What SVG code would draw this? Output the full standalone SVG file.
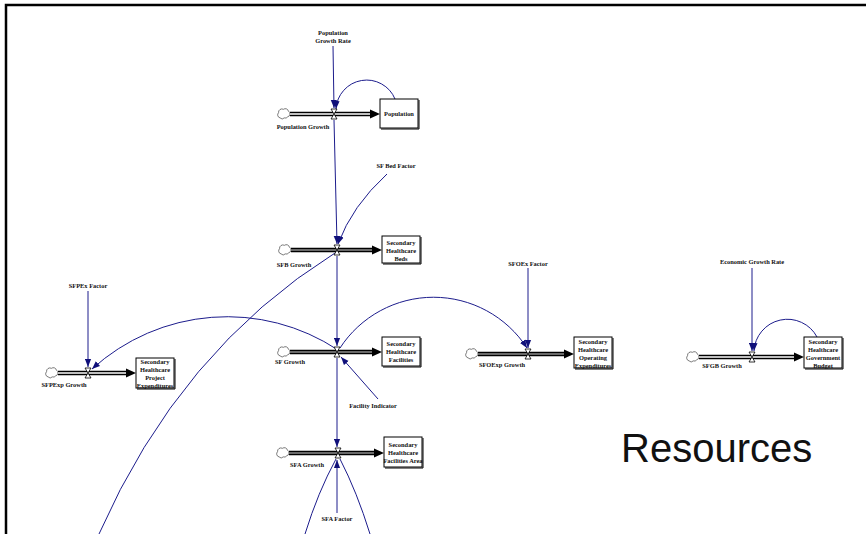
<svg xmlns="http://www.w3.org/2000/svg" xmlns:xlink="http://www.w3.org/1999/xlink" width="866" height="534" viewBox="0 0 866 534">
<style>
.lbl{font-family:"Liberation Serif","Times New Roman",serif;font-size:6.4px;font-weight:bold;text-anchor:middle;fill:#111}
.big{font-family:"Liberation Sans",Arial,sans-serif;font-size:40px;fill:#111}
.inf{fill:none;stroke:#1c1c8c;stroke-width:1}
.pipeo{stroke:#000;stroke-width:4.4;fill:none}
.pipeiw{stroke:#fff;stroke-width:1.4;fill:none}
.pipeig{stroke:#8c8c8c;stroke-width:1.6;fill:none}
.stock{fill:#fff;stroke:#000;stroke-width:1}
.shadow{fill:none;stroke:#000;stroke-width:1}
.valve{fill:#fff;stroke:#000;stroke-width:0.8}
.cloud{fill:#fff;stroke:#555;stroke-width:0.6}
.flowhead{fill:#000}
</style>
<defs>
<marker id="ah" markerWidth="9" markerHeight="7" refX="8" refY="3.5" orient="auto" markerUnits="userSpaceOnUse">
<path d="M0,0.4 L8,3.5 L0,6.6 z" fill="#10107a"/>
</marker>
<g id="valveSym"><path class="valve" d="M-3,-5 L3,-5 L0,0 z M-3,5 L3,5 L0,0 z"/></g>
<g id="cloudSym"><path class="cloud" transform="scale(1.3)" d="M-3,3 a2.4,2.4 0 0 1 -1.2,-4 a2.6,2.6 0 0 1 3.8,-2.6 a2.4,2.4 0 0 1 3.8,1.4 a2.4,2.4 0 0 1 -0.6,4.4 a2.2,2.2 0 0 1 -2.6,0.8 a2.2,2.2 0 0 1 -3.2,0 z"/></g>
</defs>
<rect x="0" y="0" width="866" height="534" fill="#fff"/>
<path d="M6,534 L6,5 L866,5" fill="none" stroke="#000" stroke-width="2.5"/>

<g id="connectors">
<path class="inf" d="M333,46 L334,108" marker-end="url(#ah)"/>
<path class="inf" d="M395,99 A30.7,30.7 0 0 0 336,109" marker-end="url(#ah)"/>
<path class="inf" d="M334,120 L337,244" marker-end="url(#ah)"/>
<path class="inf" d="M387,174 Q352,206 338,244" marker-end="url(#ah)"/>
<path class="inf" d="M99,534 Q180,350 335,253"/>
<path class="inf" d="M337,256 L337,346" marker-end="url(#ah)"/>
<path class="inf" d="M378,399 L341,357" marker-end="url(#ah)"/>
<path class="inf" d="M338,350 A201,201 0 0 0 92,369" marker-end="url(#ah)"/>
<path class="inf" d="M340,348 A111.5,111.5 0 0 1 527,348" marker-end="url(#ah)"/>
<path class="inf" d="M337,358 L337,447" marker-end="url(#ah)"/>
<path class="inf" d="M337,513 L337,460" marker-end="url(#ah)"/>
<path class="inf" d="M305,534 Q318,492 336,459"/>
<path class="inf" d="M370,534 Q357,492 340,459"/>
<path class="inf" d="M88,291 L88,367" marker-end="url(#ah)"/>
<path class="inf" d="M528,268 L528,348" marker-end="url(#ah)"/>
<path class="inf" d="M752,268 L752,351" marker-end="url(#ah)"/>
<path class="inf" d="M817,337 A33.5,33.5 0 0 0 754,351" marker-end="url(#ah)"/>
</g>

<g id="population">
<use xlink:href="#cloudSym" x="284" y="114"/>
<line class="pipeo" x1="290" y1="114" x2="371" y2="114"/>
<line class="pipeiw" x1="290" y1="114" x2="371" y2="114"/>
<path class="flowhead" d="M370,109.5 L380,114 L370,118.5 z"/>
<use xlink:href="#valveSym" x="334" y="114"/>
<rect class="stock" x="380" y="99" width="38" height="29"/>
<path class="shadow" d="M381,129 L419,129 L419,100"/>
<text class="lbl" x="399" y="116">Population</text>
<text class="lbl" x="303" y="129">Population Growth</text>
<text class="lbl" x="333" y="35">Population</text>
<text class="lbl" x="333" y="43">Growth Rate</text>
</g>

<g id="sfb">
<use xlink:href="#cloudSym" x="285" y="250"/>
<line class="pipeo" x1="291" y1="250" x2="373" y2="250"/>
<line class="pipeig" x1="291" y1="250" x2="373" y2="250"/>
<path class="flowhead" d="M372,245.5 L382,250 L372,254.5 z"/>
<use xlink:href="#valveSym" x="337" y="250"/>
<rect class="stock" x="382" y="236" width="38" height="27"/>
<path class="shadow" d="M383,264 L421,264 L421,237"/>
<text class="lbl" x="401" y="245">Secondary</text>
<text class="lbl" x="401" y="253">Healthcare</text>
<text class="lbl" x="401" y="261">Beds</text>
<text class="lbl" x="294" y="267">SFB Growth</text>
<text class="lbl" x="396" y="168">SF Bed Factor</text>
</g>

<g id="sf">
<use xlink:href="#cloudSym" x="284" y="352"/>
<line class="pipeo" x1="290" y1="352" x2="373" y2="352"/>
<line class="pipeig" x1="290" y1="352" x2="373" y2="352"/>
<path class="flowhead" d="M372,347.5 L382,352 L372,356.5 z"/>
<use xlink:href="#valveSym" x="337" y="352"/>
<rect class="stock" x="382" y="337" width="38" height="29"/>
<path class="shadow" d="M383,367 L421,367 L421,338"/>
<text class="lbl" x="401" y="346">Secondary</text>
<text class="lbl" x="401" y="354">Healthcare</text>
<text class="lbl" x="401" y="362">Facilities</text>
<text class="lbl" x="290" y="364">SF Growth</text>
<text class="lbl" x="373" y="408">Facility Indicator</text>
</g>

<g id="sfa">
<use xlink:href="#cloudSym" x="283" y="453"/>
<line class="pipeo" x1="289" y1="453" x2="375" y2="453"/>
<line class="pipeig" x1="289" y1="453" x2="375" y2="453"/>
<path class="flowhead" d="M374,448.5 L384,453 L374,457.5 z"/>
<use xlink:href="#valveSym" x="338" y="453"/>
<rect class="stock" x="384" y="437" width="38" height="30"/>
<path class="shadow" d="M385,468 L423,468 L423,438"/>
<text class="lbl" x="403" y="447">Secondary</text>
<text class="lbl" x="403" y="455">Healthcare</text>
<text class="lbl" x="403" y="463">Facilities Area</text>
<text class="lbl" x="307" y="467">SFA Growth</text>
<text class="lbl" x="337" y="521">SFA Factor</text>
</g>

<g id="sfpexp">
<use xlink:href="#cloudSym" x="52" y="373"/>
<line class="pipeo" x1="58" y1="373" x2="127" y2="373"/>
<line class="pipeiw" x1="58" y1="373" x2="127" y2="373"/>
<path class="flowhead" d="M126,368.5 L136,373 L126,377.5 z"/>
<use xlink:href="#valveSym" x="88" y="373"/>
<rect class="stock" x="136" y="358" width="38" height="30"/>
<path class="shadow" d="M137,389 L175,389 L175,359"/>
<text class="lbl" x="155" y="364">Secondary</text>
<text class="lbl" x="155" y="372">Healthcare</text>
<text class="lbl" x="155" y="380">Project</text>
<text class="lbl" x="155" y="388">Expenditures</text>
<text class="lbl" x="64" y="387">SFPExp Growth</text>
<text class="lbl" x="88" y="288">SFPEx Factor</text>
</g>

<g id="sfoexp">
<use xlink:href="#cloudSym" x="472" y="354"/>
<line class="pipeo" x1="478" y1="354" x2="565" y2="354"/>
<line class="pipeig" x1="478" y1="354" x2="565" y2="354"/>
<path class="flowhead" d="M564,349.5 L574,354 L564,358.5 z"/>
<use xlink:href="#valveSym" x="528" y="354"/>
<rect class="stock" x="574" y="337" width="38" height="31"/>
<path class="shadow" d="M575,369 L613,369 L613,338"/>
<text class="lbl" x="593" y="344">Secondary</text>
<text class="lbl" x="593" y="352">Healthcare</text>
<text class="lbl" x="593" y="360">Operating</text>
<text class="lbl" x="593" y="368">Expenditures</text>
<text class="lbl" x="502" y="367">SFOExp Growth</text>
<text class="lbl" x="528" y="266">SFOEx Factor</text>
</g>

<g id="sfgb">
<use xlink:href="#cloudSym" x="693" y="357"/>
<line class="pipeo" x1="699" y1="357" x2="795" y2="357"/>
<line class="pipeiw" x1="699" y1="357" x2="795" y2="357"/>
<path class="flowhead" d="M794,352.5 L804,357 L794,361.5 z"/>
<use xlink:href="#valveSym" x="752" y="357"/>
<rect class="stock" x="804" y="337" width="38" height="31"/>
<path class="shadow" d="M805,369 L843,369 L843,338"/>
<text class="lbl" x="823" y="344">Secondary</text>
<text class="lbl" x="823" y="352">Healthcare</text>
<text class="lbl" x="823" y="360">Government</text>
<text class="lbl" x="823" y="368">Budget</text>
<text class="lbl" x="722" y="368">SFGB Growth</text>
<text class="lbl" x="752" y="264">Economic Growth Rate</text>
</g>

<text class="big" x="621" y="462">Resources</text>
</svg>
